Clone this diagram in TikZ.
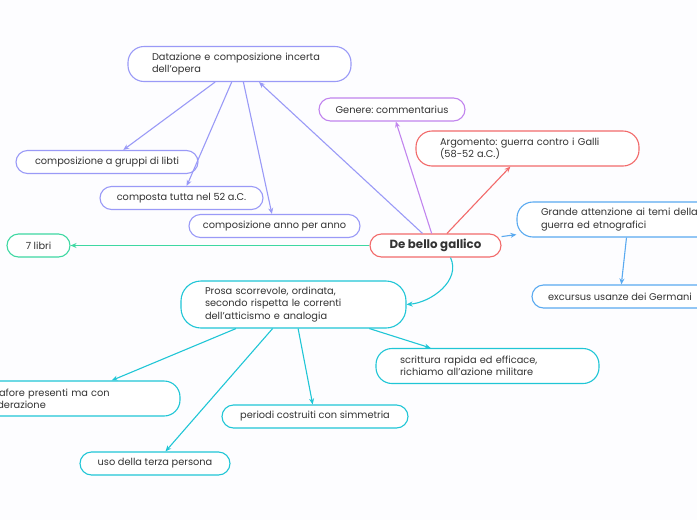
\documentclass[tikz,border=0pt]{standalone}
\usepackage{fontspec}
\setmainfont{Poppins}
\usepackage{xcolor}
\usetikzlibrary{arrows.meta, positioning, calc}
\definecolor{bgpaper}{HTML}{FDFDFF}
\definecolor{txtgray}{HTML}{333333}
\definecolor{datblue}{HTML}{9A9AF7}
\definecolor{genpurple}{HTML}{C184EE}
\definecolor{dbred}{HTML}{F26A6A}
\definecolor{grblue}{HTML}{5AAAF0}
\definecolor{libgreen}{HTML}{3ED8A2}
\definecolor{procyan}{HTML}{20C6D6}
\frenchspacing

\begin{document}
\begin{tikzpicture}[x=1pt, y=-1pt,
    mapnode/.style={draw, fill=white, text=txtgray, line width=1.1pt, inner ysep=2pt, font=\fontsize{9.8}{12.2}\selectfont},
    pill/.style={mapnode, rounded corners=11.5pt, minimum height=23pt},
    note/.style={mapnode, rounded corners=16pt, align=left, inner xsep=24pt, text width=175pt, minimum height=35pt},
    link/.style={-{Stealth[length=6pt, width=5pt]}, line width=1.1pt}
]
\fill[bgpaper] (0,0) rectangle (697,520);
\useasboundingbox (0,0) rectangle (697,520);
\clip (0,0) rectangle (697,520);
% Nodes
\node[pill, draw=dbred, minimum width=131pt, font=\bfseries\fontsize{11.8}{14}\selectfont] (dbg) at (435.5,245.5) {De bello gallico};
\node[note, draw=datblue] (dat) at (239.5,64) {Datazione e composizione incerta\\dell’opera};
\node[pill, draw=genpurple, minimum width=146pt] (gen) at (392,109.5) {Genere: commentarius};
\node[note, draw=dbred] (arg) at (527.5,148.5) {Argomento: guerra contro i Galli\\(58-52 a.C.)};
\node[pill, draw=datblue, minimum width=182pt] (grp) at (107,162) {composizione a gruppi di libti};
\node[pill, draw=datblue, minimum width=163pt] (tot) at (181.5,198) {composta tutta nel 52 a.C.};
\node[pill, draw=datblue, minimum width=171pt] (ann) at (274.5,226) {composizione anno per anno};
\node[pill, draw=libgreen, minimum width=63pt] (lib) at (38.5,245.5) {7 libri};
\node[note, draw=grblue] (att) at (628.5,219.5) {Grande attenzione ai temi della\\guerra ed etnografici};
\node[pill, draw=grblue, minimum width=176pt] (exc) at (620,296.5) {excursus usanze dei Germani};
\node[note, draw=procyan, text width=177pt, minimum height=47pt, rounded corners=20pt] (pro) at (293.5,304.5) {Prosa scorrevole, ordinata,\\secondo rispetta le correnti\\dell’atticismo e analogia};
\node[note, draw=procyan] (met) at (68.5,398.5) {Metafore presenti ma con\\moderazione};
\node[pill, draw=procyan, minimum width=150pt] (uso) at (155,463.5) {uso della terza persona};
\node[pill, draw=procyan, minimum width=186pt] (per) at (315,416.5) {periodi costruiti con simmetria};
\node[note, draw=procyan] (scr) at (487.5,366) {scrittura rapida ed efficace,\\richiamo all’azione militare};
% Edges from the centre
\draw[link, datblue] (dbg) -- (dat);
\draw[link, genpurple] (dbg) -- (gen);
\draw[link, dbred] (dbg) -- (arg);
\draw[link, grblue] (dbg) -- (att);
\draw[link, libgreen] (dbg) -- (lib);
\draw[link, procyan] ([xshift=15pt]dbg.south) to[out=-65, in=5] (pro.east);
% Edges of the branches
\draw[link, datblue] (dat) -- (grp);
\draw[link, datblue] (dat) -- (tot);
\draw[link, datblue] (dat) -- (ann);
\draw[link, grblue] (att) -- (exc);
\draw[link, procyan] (pro) -- (met);
\draw[link, procyan] (pro) -- (uso);
\draw[link, procyan] (pro) -- (per);
\draw[link, procyan] (pro) -- (scr);
\end{tikzpicture}
\end{document}
